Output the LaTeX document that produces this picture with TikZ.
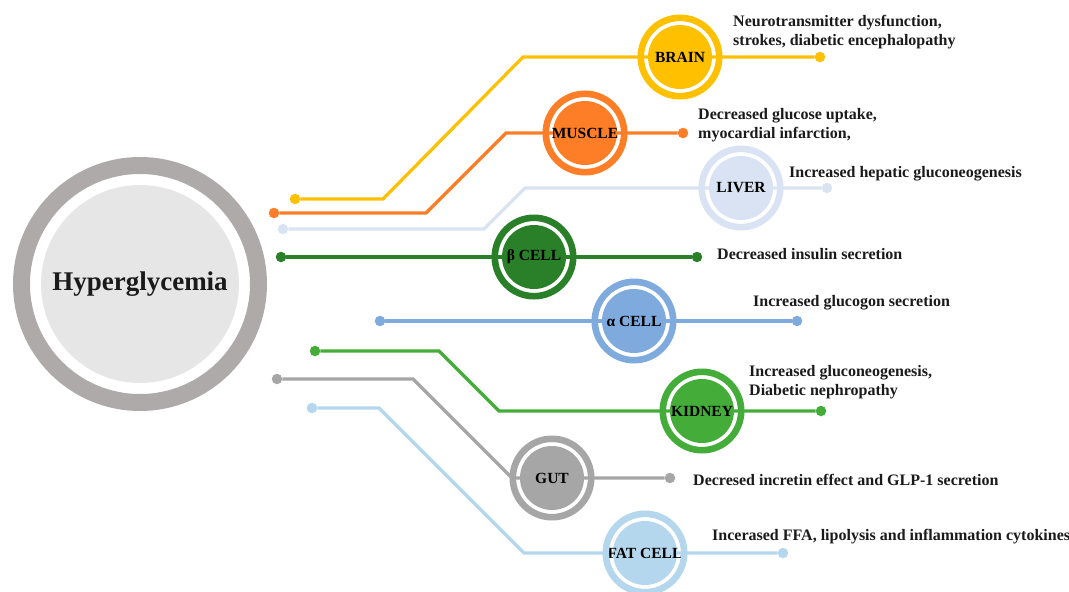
\documentclass[tikz,border=0pt]{standalone}
\usepackage{fontspec}
\setmainfont{Liberation Serif}
\usetikzlibrary{backgrounds}
\definecolor{cBrain}{HTML}{FFC000}
\definecolor{cMuscle}{HTML}{FD7E26}
\definecolor{cLiver}{HTML}{DAE3F3}
\definecolor{cBeta}{HTML}{2A8028}
\definecolor{cAlpha}{HTML}{7EAADE}
\definecolor{cKidney}{HTML}{44AD3A}
\definecolor{cGut}{HTML}{A6A6A6}
\definecolor{cFat}{HTML}{B4D7EE}
\definecolor{ringgray}{HTML}{AEAAAA}
\definecolor{mainfill}{HTML}{E7E6E6}
\definecolor{txt}{HTML}{1A1A1A}
\begin{document}
\begin{tikzpicture}[x=1pt,y=-1pt,
  conn/.style={draw=#1, line width=3.2pt},
  dot/.style={circle, fill=#1, minimum size=10.5pt, inner sep=0pt},
  organ/.style={circle, fill=#1, minimum size=64pt, inner sep=0pt, font=\fontsize{15.5}{18}\selectfont\bfseries, text=black},
  ring/.style={draw=#1, line width=6.6pt},
  desc/.style={anchor=west, align=left, inner sep=0pt, font=\fontsize{16}{19}\selectfont\bfseries, text=txt}]

\useasboundingbox (0,0) rectangle (1069,592);

% central node
\node[circle, fill=mainfill, minimum size=198pt, inner sep=0pt, font=\fontsize{27}{30}\selectfont\bfseries, text=txt] (hyper) at (140,284) {\raisebox{-5pt}{Hyperglycemia}};
\draw[draw=ringgray, line width=17pt] (hyper.center) circle[radius=118.5pt];

% organ nodes
\node[organ=cBrain]  (brain)  at (680,57)  {\makebox[0pt]{BRAIN}};
\node[organ=cMuscle] (muscle) at (585,133) {\makebox[0pt]{MUSCLE}};
\node[organ=cLiver]  (liver)  at (741,188) {\makebox[0pt]{LIVER}};
\node[organ=cBeta]   (beta)   at (534,257) {\makebox[0pt]{β CELL}};
\node[organ=cAlpha]  (alpha)  at (634,321) {\makebox[0pt]{α CELL}};
\node[organ=cKidney] (kidney) at (702,411) {\makebox[0pt]{KIDNEY}};
\node[organ=cGut]    (gut)    at (552,478) {\makebox[0pt]{GUT}};
\node[organ=cFat]    (fat)    at (645,553) {\makebox[0pt]{FAT CELL}};

\foreach \n/\c in {brain/cBrain, muscle/cMuscle, liver/cLiver, beta/cBeta, alpha/cAlpha, kidney/cKidney, gut/cGut, fat/cFat}
  \draw[ring=\c] (\n.center) circle[radius=39.2pt];

% start dots
\node[dot=cBrain]  (sBrain)  at (295,199) {};
\node[dot=cMuscle] (sMuscle) at (274,213) {};
\node[dot=cLiver]  (sLiver)  at (283,229) {};
\node[dot=cBeta]   (sBeta)   at (281,257) {};
\node[dot=cAlpha]  (sAlpha)  at (380,321) {};
\node[dot=cKidney] (sKidney) at (315,351) {};
\node[dot=cGut]    (sGut)    at (277,379) {};
\node[dot=cFat]    (sFat)    at (312,408) {};

% end dots
\node[dot=cBrain]  (eBrain)  at (820,57)  {};
\node[dot=cMuscle] (eMuscle) at (683,133) {};
\node[dot=cLiver]  (eLiver)  at (827,188) {};
\node[dot=cBeta]   (eBeta)   at (697,257) {};
\node[dot=cAlpha]  (eAlpha)  at (797,321) {};
\node[dot=cKidney] (eKidney) at (821,411) {};
\node[dot=cGut]    (eGut)    at (670,478) {};
\node[dot=cFat]    (eFat)    at (783,553) {};

% bend points
\coordinate (bBrain1)  at (383,199);
\coordinate (bBrain2)  at (523,57);
\coordinate (bMuscle1) at (426,213);
\coordinate (bMuscle2) at (506,133);
\coordinate (bLiver1)  at (484,229);
\coordinate (bLiver2)  at (525,188);
\coordinate (bKidney1) at (439,351);
\coordinate (bKidney2) at (499,411);
\coordinate (bGut1)    at (413,379);
\coordinate (bGut2)    at (512,478);
\coordinate (bFat1)    at (379,408);
\coordinate (bFat2)    at (524,553);

\begin{pgfonlayer}{background}
\draw[conn=cBrain]  (sBrain)  -- (bBrain1)  -- (bBrain2)  -- (brain)  -- (eBrain);
\draw[conn=cMuscle] (sMuscle) -- (bMuscle1) -- (bMuscle2) -- (muscle) -- (eMuscle);
\draw[conn=cLiver]  (sLiver)  -- (bLiver1)  -- (bLiver2)  -- (liver)  -- (eLiver);
\draw[conn=cBeta]   (sBeta)   -- (beta)   -- (eBeta);
\draw[conn=cAlpha]  (sAlpha)  -- (alpha)  -- (eAlpha);
\draw[conn=cKidney] (sKidney) -- (bKidney1) -- (bKidney2) -- (kidney) -- (eKidney);
\draw[conn=cGut]    (sGut)    -- (bGut1)    -- (bGut2)    -- (gut)    -- (eGut);
\draw[conn=cFat]    (sFat)    -- (bFat1)    -- (bFat2)    -- (fat)    -- (eFat);
\end{pgfonlayer}

% descriptions
\node[desc] (dBrain)  at (733,32.5) {Neurotransmitter dysfunction,\\strokes, diabetic encephalopathy};
\node[desc] (dMuscle) at (698,125.5) {Decreased glucose uptake,\\myocardial infarction,};
\node[desc] (dLiver)  at (789,174) {Increased hepatic gluconeogenesis};
\node[desc] (dBeta)   at (717,254) {Decreased insulin secretion};
\node[desc] (dAlpha)  at (753,303) {Increased glucogon secretion};
\node[desc] (dKidney) at (749,382.5) {Increased gluconeogenesis,\\Diabetic nephropathy};
\node[desc] (dGut)    at (693,480) {Decresed incretin effect and GLP-1 secretion};
\node[desc] (dFat)    at (712,537) {Incerased FFA, lipolysis and inflammation cytokines};
\end{tikzpicture}
\end{document}
